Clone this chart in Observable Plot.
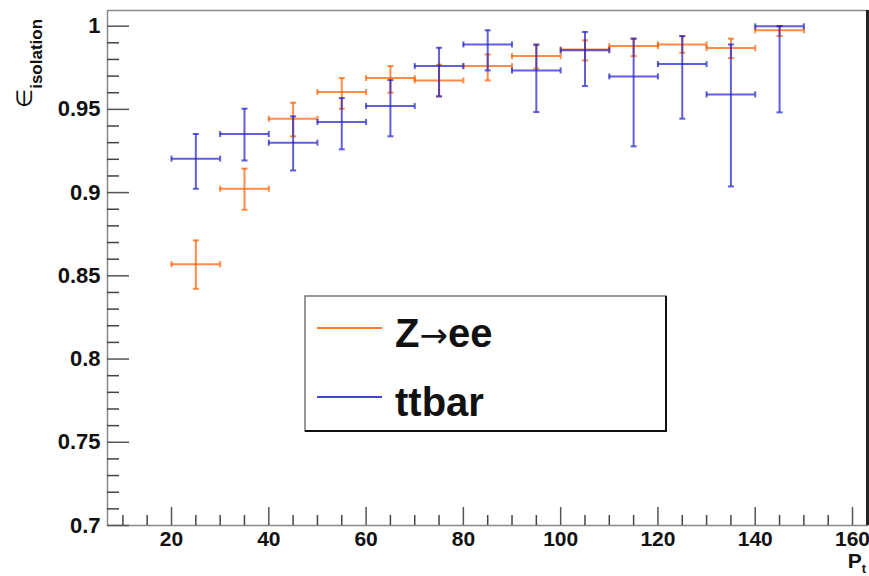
<!DOCTYPE html>
<html>
<head>
<meta charset="utf-8">
<script src="https://cdn.jsdelivr.net/npm/d3@7"></script>
<script src="https://cdn.jsdelivr.net/npm/@observablehq/plot@0.6"></script>
<style>
  body { margin: 0; background: #fff; }
  #chart { position: relative; width: 869px; height: 576px; }
  #chart svg text { font-weight: bold; }
</style>
</head>
<body>
<div id="chart"></div>
<script>
// ---- data ----
const binLow  = [20, 30, 40, 50, 60, 70, 80, 90, 100, 110, 120, 130, 140];
const binHigh = [30, 40, 50, 60, 70, 80, 90, 100, 110, 120, 130, 140, 150];
const ptCenter = [25, 35, 45, 55, 65, 75, 85, 95, 105, 115, 125, 135, 145];

const zeeEff     = [0.857, 0.9023, 0.9444, 0.9604, 0.9688, 0.9674, 0.976, 0.982, 0.986, 0.988, 0.989, 0.9868, 0.9975];
const zeeEffHigh = [0.8713, 0.9144, 0.954, 0.9688, 0.976, 0.9768, 0.983, 0.9885, 0.9915, 0.9925, 0.994, 0.9925, 1.0];
const zeeEffLow  = [0.8422, 0.8897, 0.9338, 0.9504, 0.96, 0.9578, 0.9674, 0.9745, 0.9794, 0.982, 0.984, 0.9808, 0.9941];

const ttbarEff     = [0.9204, 0.9352, 0.930, 0.9424, 0.952, 0.976, 0.989, 0.9734, 0.9855, 0.9698, 0.9772, 0.959, 0.9999];
const ttbarEffHigh = [0.9352, 0.9504, 0.9458, 0.9568, 0.9676, 0.987, 0.9975, 0.989, 0.9965, 0.9925, 0.994, 0.989, 1.0];
const ttbarEffLow  = [0.9023, 0.9193, 0.9133, 0.926, 0.9338, 0.9578, 0.9734, 0.9484, 0.964, 0.9278, 0.9444, 0.9037, 0.9482];

const seriesNames = [["Z", "\u2192", "ee"], ["ttbar"]];
const seriesColors = ["#ff6000", "#2222cc"];

const xTicks = [20, 40, 60, 80, 100, 120, 140, 160];
const xMinorTicks = [10, 15, 25, 30, 35, 45, 50, 55, 65, 70, 75, 85, 90, 95, 105, 110, 115, 125, 130, 135, 145, 150, 155];
const yTicks = [0.7, 0.75, 0.8, 0.85, 0.9, 0.95, 1];
const yMinorTicks = [0.71, 0.72, 0.73, 0.74, 0.76, 0.77, 0.78, 0.79, 0.81, 0.82, 0.83, 0.84, 0.86, 0.87, 0.88, 0.89, 0.91, 0.92, 0.93, 0.94, 0.96, 0.97, 0.98, 0.99];
const xDomain = [6.84, 163.08];
const yDomain = [0.7, 1.0094];

// ---- build rows ----
function rows(eff, lo, hi) {
  return ptCenter.map((c, i) => ({x: c, lo: binLow[i], hi: binHigh[i], y: eff[i], y1: lo[i], y2: hi[i]}));
}
const zeeRows = rows(zeeEff, zeeEffLow, zeeEffHigh);
const ttbarRows = rows(ttbarEff, ttbarEffLow, ttbarEffHigh);

const vCap = {draw(ctx, size) { const r = Math.sqrt(size / Math.PI); ctx.moveTo(0, -r); ctx.lineTo(0, r); }};
const hCap = {draw(ctx, size) { const r = Math.sqrt(size / Math.PI); ctx.moveTo(-r, 0); ctx.lineTo(r, 0); }};

function errorMarks(data, color) {
  const s = {stroke: color, strokeWidth: 2, strokeOpacity: 0.72};
  return [
    Plot.ruleY(data, {y: "y", x1: "lo", x2: "hi", ...s}),
    Plot.ruleX(data, {x: "x", y1: "y1", y2: "y2", ...s}),
    Plot.dot(data, {x: "lo", y: "y", symbol: vCap, r: 3, fill: "none", ...s}),
    Plot.dot(data, {x: "hi", y: "y", symbol: vCap, r: 3, fill: "none", ...s}),
    Plot.dot(data, {x: "x", y: "y1", symbol: hCap, r: 3, fill: "none", ...s}),
    Plot.dot(data, {x: "x", y: "y2", symbol: hCap, r: 3, fill: "none", ...s})
  ];
}

const noText = () => "";

const plot = Plot.plot({
  width: 869,
  height: 576,
  marginLeft: 107,
  marginRight: 2,
  marginTop: 10,
  marginBottom: 51,
  style: {fontFamily: "'Liberation Sans', Arial, sans-serif", background: "#fff", color: "#111"},
  x: {domain: xDomain, axis: null},
  y: {domain: yDomain, axis: null},
  marks: [
    Plot.frame({stroke: "#888", strokeWidth: 1.5}),
    // tick labels
    Plot.axisY(yTicks, {anchor: "left", tickSize: 0, tickPadding: 7, fontSize: 22, label: null, tickFormat: d => String(d)}),
    Plot.axisX(xTicks, {anchor: "bottom", tickSize: 0, tickPadding: 6, fontSize: 21, label: null, tickFormat: d => String(d)}),
    // inward ticks
    Plot.axisY(yTicks, {anchor: "left", tickSize: 22, dx: 22, tickFormat: noText, label: null, stroke: "#555", strokeWidth: 1.5}),
    Plot.axisY(yMinorTicks, {anchor: "left", tickSize: 12, dx: 12, tickFormat: noText, label: null, stroke: "#444", strokeWidth: 1.5}),
    Plot.axisX(xTicks, {anchor: "bottom", tickSize: 18, dy: -18, tickFormat: noText, label: null, stroke: "#555", strokeWidth: 1.5}),
    Plot.axisX(xMinorTicks, {anchor: "bottom", tickSize: 10, dy: -10, tickFormat: noText, label: null, stroke: "#444", strokeWidth: 1.5}),
    Plot.ruleX([xDomain[1]], {stroke: "#222", strokeWidth: 3}),
    ...errorMarks(zeeRows, seriesColors[0]),
    ...errorMarks(ttbarRows, seriesColors[1])
  ]
});

document.getElementById("chart").appendChild(plot);

// ---- titles and legend as real SVG text ----
const svg = d3.select(plot);
const ff = "'Liberation Sans', Arial, sans-serif";

const yt = svg.append("text")
  .attr("transform", "translate(32,108) rotate(-90)")
  .attr("text-anchor", "start")
  .attr("font-family", ff).attr("font-weight", "bold").attr("fill", "#111");
yt.append("tspan").attr("font-size", 22).attr("font-family", "'DejaVu Sans', sans-serif").attr("font-weight", "normal").text("\u2208");
yt.append("tspan").attr("font-size", 17).attr("dy", 10).text("isolation");

const xt = svg.append("text")
  .attr("x", 866).attr("y", 568).attr("text-anchor", "end")
  .attr("font-family", ff).attr("font-weight", "bold").attr("fill", "#111").attr("font-size", 21);
xt.append("tspan").text("P");
xt.append("tspan").attr("font-size", 13).attr("dy", 5).text("t");

const lg = svg.append("g");
lg.append("rect").attr("x", 305).attr("y", 296).attr("width", 361).attr("height", 135)
  .attr("fill", "#fff").attr("stroke", "#777").attr("stroke-width", 1.5);
lg.append("path").attr("d", "M666,296 V431 H305").attr("fill", "none").attr("stroke", "#111").attr("stroke-width", 2);
seriesNames.forEach((parts, i) => {
  const cy = [328, 397][i];
  lg.append("line").attr("x1", 317).attr("x2", 382).attr("y1", cy).attr("y2", cy)
    .attr("stroke", seriesColors[i]).attr("stroke-width", 2).attr("stroke-opacity", 0.85);
  const t = lg.append("text").attr("x", 395).attr("y", cy + 19).attr("text-anchor", "start")
    .attr("font-family", ff).attr("font-weight", "bold").attr("font-size", 40).attr("fill", "#111");
  parts.forEach(p => {
    const sp = t.append("tspan").text(p);
    if (p === "\u2192") sp.attr("font-family", "'DejaVu Sans', sans-serif").attr("font-weight", "normal").attr("font-size", 34);
  });
});
</script>
</body>
</html>
